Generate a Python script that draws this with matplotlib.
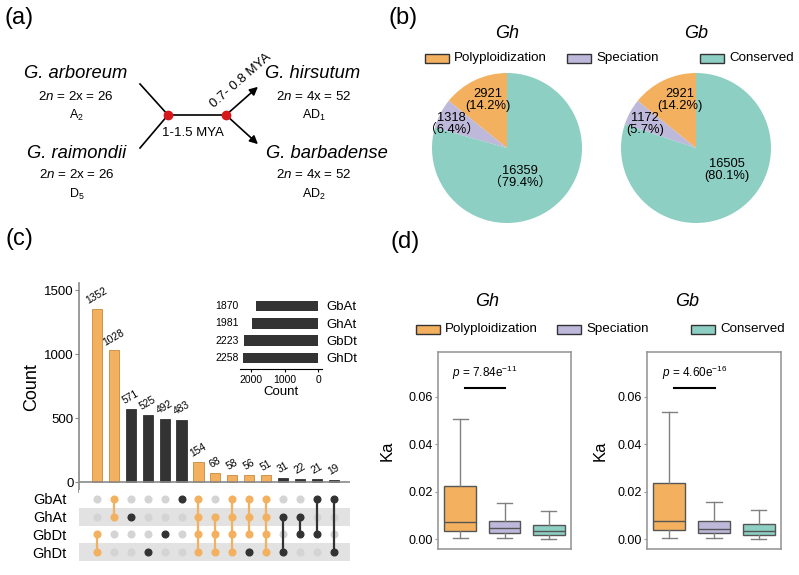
import numpy as np
import matplotlib
matplotlib.use('Agg')
import matplotlib.pyplot as plt
from matplotlib.patches import Rectangle

plt.rcParams['font.family'] = ['Liberation Sans', 'Noto Sans CJK SC', 'DejaVu Sans']
plt.rcParams['mathtext.fontset'] = 'custom'
plt.rcParams['mathtext.rm'] = 'Liberation Sans'
plt.rcParams['mathtext.it'] = 'Liberation Sans:italic'

# ---- data ----
categories = ['Polyploidization', 'Speciation', 'Conserved']
gh_counts = [2921, 1318, 16359]
gh_pct = ['(14.2%)', '（6.4%）', '（79.4%）']
gb_counts = [2921, 1172, 16505]
gb_pct = ['(14.2%)', '(5.7%)', '(80.1%)']

set_names = ['GbAt', 'GhAt', 'GbDt', 'GhDt']
set_sizes = [1870, 1981, 2223, 2258]
upset_counts = [1352, 1028, 571, 525, 492, 483, 154, 68, 58, 56, 51, 31, 22, 21, 19]
upset_members = [(2, 3), (0, 1), (1,), (3,), (2,), (0,), (0, 1, 2, 3), (1, 2, 3),
                 (0, 1, 2, 3), (0, 1, 2), (0, 1, 2, 3), (1, 3), (1, 2), (0, 2), (0, 3)]
upset_poly = [1, 1, 0, 0, 0, 0, 1, 1, 1, 1, 1, 0, 0, 0, 0]
upset_extra_dark = [(9, 3)]

# Ka box statistics: whislo, q1, med, q3, whishi
gh_ka = [[0.0004, 0.0035, 0.0073, 0.0222, 0.0506],
         [0.0005, 0.0024, 0.0045, 0.0075, 0.0152],
         [0.0002, 0.0018, 0.0034, 0.0058, 0.0118]]
gb_ka = [[0.0004, 0.0038, 0.0077, 0.0238, 0.0538],
         [0.0005, 0.0024, 0.0044, 0.0077, 0.0155],
         [0.0002, 0.0018, 0.0035, 0.0062, 0.0122]]
p_gh = r'$\it{p}$ = 7.84e$^{-11}$'
p_gb = r'$\it{p}$ = 4.60e$^{-16}$'

ORANGE = '#F3B160'
PURPLE = '#BEB8DA'
TEAL = '#8ECFC3'
DARK = '#333333'
colors = [ORANGE, PURPLE, TEAL]

W, H = 799, 575
fig = plt.figure(figsize=(W / 100, H / 100), dpi=100)


def px_axes(l, t, r, b):
    return fig.add_axes([l / W, 1 - b / H, (r - l) / W, (b - t) / H])


ov = px_axes(0, 0, W, H)
ov.set_xlim(0, W)
ov.set_ylim(H, 0)
ov.axis('off')

# panel labels
for lab, x, y in [('(a)', 19, 18), ('(b)', 403, 18), ('(c)', 19, 239), ('(d)', 405, 242)]:
    ov.text(x, y, lab, fontsize=17, ha='center', va='center')

# ---- (a) phylogeny sketch ----
ov.plot([140, 168], [84, 115], color='k', lw=1.2)
ov.plot([140, 168], [148, 115], color='k', lw=1.2)
ov.plot([168, 226], [115, 115], color='k', lw=1.2)
ov.annotate('', xy=(260, 85), xytext=(226, 115),
            arrowprops=dict(arrowstyle='-|>', color='k', lw=1.2, mutation_scale=12))
ov.annotate('', xy=(260, 146), xytext=(226, 115),
            arrowprops=dict(arrowstyle='-|>', color='k', lw=1.2, mutation_scale=12))
ov.plot([168, 226], [115, 115], 'o', color='#D7191C', ms=6, zorder=5)
ov.text(193, 133, '1-1.5 MYA', fontsize=9.5, ha='center', va='center')
ov.text(241, 81, '0.7- 0.8 MYA', fontsize=9.5, ha='center', va='center', rotation=41)

species = [('G. arboreum', 76, 74, r'2$\it{n}$ = 2x = 26', 'A$_2$'),
           ('G. raimondii', 77, 153, r'2$\it{n}$ = 2x = 26', 'D$_5$'),
           ('G. hirsutum', 313, 74, r'2$\it{n}$ = 4x = 52', 'AD$_1$'),
           ('G. barbadense', 327, 153, r'2$\it{n}$ = 4x = 52', 'AD$_2$')]
for name, x, y, chrom, genome in species:
    ov.text(x, y, name, fontsize=13.2, style='italic', ha='center', va='center')
    ov.text(x if x < 200 else 314, y + 22, chrom, fontsize=9.6, ha='center', va='center')
    ov.text(x if x < 200 else 314, y + 41, genome, fontsize=9, ha='center', va='center')

# ---- (b) pies ----
label_pos = {'Gh': [(-0.25, 0.64), (-0.74, 0.32), (0.17, -0.39)],
             'Gb': [(-0.21, 0.64), (-0.68, 0.32), (0.41, -0.29)]}
for title, counts, pcts, cx in [('Gh', gh_counts, gh_pct, 507), ('Gb', gb_counts, gb_pct, 696)]:
    ax = px_axes(cx - 75, 73, cx + 75, 223)
    ax.pie(counts, colors=colors, startangle=90, counterclock=True,
           wedgeprops=dict(linewidth=0))
    ax.set_xlim(-1, 1)
    ax.set_ylim(-1, 1)
    for (tx, ty), c, p in zip(label_pos[title], counts, pcts):
        ax.text(tx, ty, f'{c}\n{p}', ha='center', va='center', fontsize=9.3,
                linespacing=0.95)
    ov.text(cx, 33, title, fontsize=13, style='italic', ha='center', va='center')


def manual_legend(y, patch_x, text_x):
    for px, tx, lab, col in zip(patch_x, text_x, categories, colors):
        ov.add_patch(Rectangle((px, y - 4.5), 24, 9, facecolor=col, edgecolor='#333333', lw=1))
        ov.text(tx, y, lab, fontsize=9.6, ha='left', va='center')


manual_legend(58, [425, 567, 700], [454, 596, 729])
manual_legend(329, [416, 557, 691], [445, 586, 720])

# ---- (c) upset ----
n = len(upset_counts)
xs = np.arange(n)
bar_cols = [ORANGE if p else DARK for p in upset_poly]
axb = px_axes(79, 283, 350, 492)
axb.bar(xs, upset_counts, width=0.6, color=bar_cols,
        edgecolor=['#C88A3C' if p else DARK for p in upset_poly], lw=0.6)
axb.axhline(0, color='#8a8a8a', lw=1.2)
for x, v in zip(xs, upset_counts):
    axb.text(x, v + 25, str(v), rotation=30, ha='center', va='bottom', fontsize=7.4)
axb.set_xlim(-1.07, 14.97)
axb.set_ylim(-78, 1555)
axb.set_xticks([])
axb.set_yticks([0, 500, 1000, 1500])
axb.tick_params(axis='y', labelsize=9.5, length=3, color='#8a8a8a', pad=1)
for s in ['top', 'right', 'bottom']:
    axb.spines[s].set_visible(False)
axb.spines['left'].set_color('#8a8a8a')
axb.spines['left'].set_linewidth(1.2)
axb.set_ylabel('Count', fontsize=13, labelpad=3)

axm = px_axes(79, 490, 350, 561)
axm.set_xlim(-1.07, 14.97)
axm.set_ylim(3.5, -0.5)
for r in [1, 3]:
    axm.axhspan(r - 0.5, r + 0.5, color='#E2E2E2', lw=0, zorder=0)
for i, mem in enumerate(upset_members):
    col = ORANGE if upset_poly[i] else DARK
    empty = [r for r in range(4) if r not in mem]
    axm.plot([i] * len(empty), empty, 'o', color='#D4D4D4', ms=4.8, zorder=1)
    if len(mem) > 1:
        axm.plot([i, i], [min(mem), max(mem)], color=col, lw=1.6, zorder=2)
    axm.plot([i] * len(mem), list(mem), 'o', color=col, ms=4.8, zorder=3)
for i, r in upset_extra_dark:
    axm.plot(i, r, 'o', color=DARK, ms=4.8, zorder=4)
axm.set_xticks([])
axm.set_yticks(range(4))
axm.set_yticklabels(set_names, fontsize=10.5)
axm.tick_params(axis='y', length=0, pad=9)
for s in axm.spines.values():
    s.set_visible(False)

# inset set sizes
axi = px_axes(240, 297, 322, 369)
axi.barh(range(4), set_sizes, height=0.6, color=DARK)
axi.set_xlim(2340, -120)
axi.set_ylim(3.64, -0.52)
axi.yaxis.tick_right()
axi.set_yticks(range(4))
axi.set_yticklabels(set_names, fontsize=9.5)
axi.tick_params(axis='y', length=0, pad=3)
axi.set_xticks([2000, 1000, 0])
axi.tick_params(axis='x', labelsize=7.5, length=2.5, pad=1.5)
axi.set_xlabel('Count', fontsize=9.5, labelpad=1)
for s in ['top', 'right', 'left']:
    axi.spines[s].set_visible(False)
for y, v in enumerate(set_sizes):
    axi.text(-0.02, y, str(v), transform=axi.get_yaxis_transform(), ha='right',
             va='center', fontsize=7.5)

# ---- (d) Ka boxplots ----
for stats_rows, ptxt, l, r, lp in [(gh_ka, p_gh, 438, 571, 10), (gb_ka, p_gb, 647, 781, 7)]:
    ax = px_axes(l, 352, r, 549)
    stats = [dict(whislo=s[0], q1=s[1], med=s[2], q3=s[3], whishi=s[4], fliers=[])
             for s in stats_rows]
    bp = ax.bxp(stats, positions=[1, 2, 3], widths=0.72, capwidths=0.34, patch_artist=True,
                showfliers=False,
                boxprops=dict(edgecolor='#555555', lw=1),
                whiskerprops=dict(color='#808080', lw=1),
                capprops=dict(color='#808080', lw=1),
                medianprops=dict(color='#555555', lw=1))
    for b, c in zip(bp['boxes'], colors):
        b.set_facecolor(c)
    ax.plot([1.11, 2.02], [0.0639, 0.0639], color='k', lw=1.5)
    ax.text(1.56, 0.0665, ptxt, ha='center', va='bottom', fontsize=8.5)
    ax.set_xlim(0.5, 3.5)
    ax.set_ylim(-0.0042, 0.079)
    ax.set_xticks([])
    ax.set_yticks([0, 0.02, 0.04, 0.06])
    ax.set_yticklabels(['0.00', '0.02', '0.04', '0.06'])
    ax.tick_params(axis='y', labelsize=9, length=2, color='#999999', pad=2)
    for s in ax.spines.values():
        s.set_color('#999999')
        s.set_linewidth(1.2)
    ax.set_ylabel('Ka', fontsize=12, labelpad=lp)

ov.text(487, 302, 'Gh', fontsize=13, style='italic', ha='center', va='center')
ov.text(687, 302, 'Gb', fontsize=13, style='italic', ha='center', va='center')

fig.savefig('out.png', dpi=100)
